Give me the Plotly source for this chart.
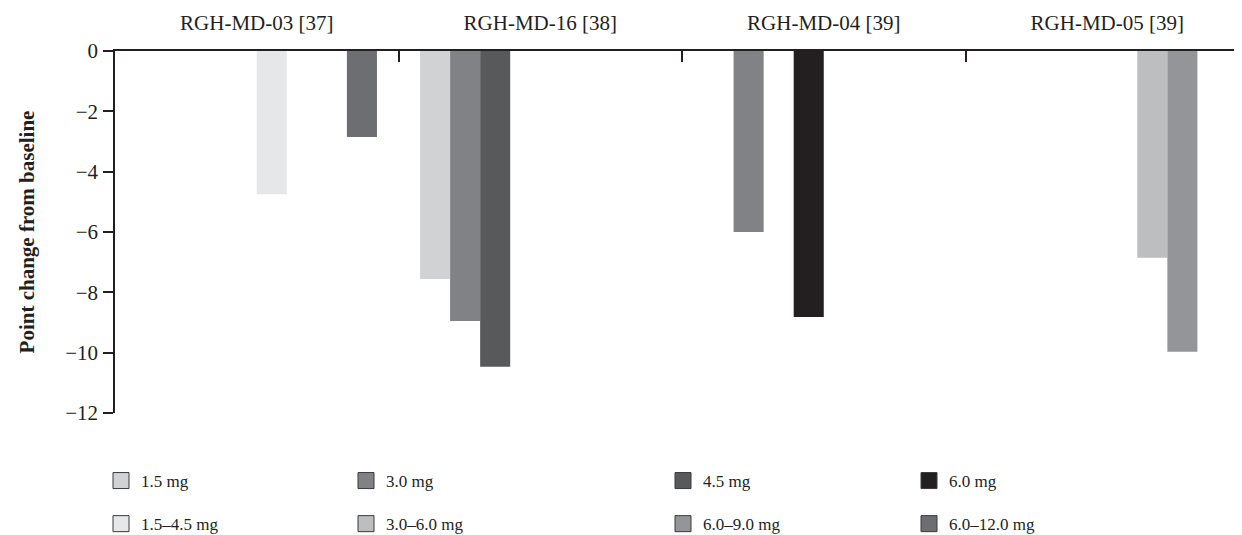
import plotly.graph_objects as go

studies = ["RGH-MD-03 [37]", "RGH-MD-16 [38]", "RGH-MD-04 [39]", "RGH-MD-05 [39]"]
series_names = ["1.5 mg", "3.0 mg", "4.5 mg", "6.0 mg",
                "1.5–4.5 mg", "3.0–6.0 mg", "6.0–9.0 mg", "6.0–12.0 mg"]
series_colors = ["#d1d2d4", "#808285", "#58595b", "#231f20",
                 "#e6e7e8", "#bcbec0", "#939598", "#6d6e71"]
# values per series, per study (None = not studied)
v_1_5 = [None, -7.56, None, None]
v_3_0 = [None, -8.95, -6.00, None]
v_4_5 = [None, -10.47, None, None]
v_6_0 = [None, None, -8.82, None]
v_1_5_4_5 = [-4.75, None, None, None]
v_3_0_6_0 = [None, None, None, -6.85]
v_6_0_9_0 = [None, None, None, -9.97]
v_6_0_12_0 = [-2.85, None, None, None]
series_values = [v_1_5, v_3_0, v_4_5, v_6_0, v_1_5_4_5, v_3_0_6_0, v_6_0_9_0, v_6_0_12_0]
y_ticks = [0, -2, -4, -6, -8, -10, -12]

FONT = "Liberation Serif"
INK = "#231f20"

fig = go.Figure()
for name, color, vals in zip(series_names, series_colors, series_values):
    fig.add_trace(go.Bar(x=studies, y=vals, name=name, marker=dict(color=color, line=dict(width=0)),
                         showlegend=False))

# legend entries (4 columns x 2 rows)
legend_ids = ["legend", "legend2", "legend3", "legend4"]
for i, (name, color) in enumerate(zip(series_names, series_colors)):
    col = i % 4
    fig.add_trace(go.Scatter(x=[None], y=[None], mode="markers", name=name,
                             marker=dict(symbol="square", size=16, color=color,
                                         line=dict(color="#3a3a3c", width=1)),
                             legend=legend_ids[col], legendgroup=name, showlegend=True))

# page is rendered with an 8px body margin, so the figure is sized/offset accordingly
PW = 1127.0
PH = 362.0
text_starts = [141, 386, 703, 949]
leg_x = [(t - 155) / PW for t in text_starts]
leg_common = dict(orientation="v", xanchor="left", yanchor="top", y=-50 / PH,
                  font=dict(family=FONT, size=17, color=INK), tracegroupgap=18,
                  bgcolor="rgba(0,0,0,0)", itemsizing="trace")
fig.update_layout(
    legend=dict(x=leg_x[0], **leg_common),
    legend2=dict(x=leg_x[1], **leg_common),
    legend3=dict(x=leg_x[2], **leg_common),
    legend4=dict(x=leg_x[3], **leg_common),
)

fig.update_layout(
    width=1234, height=527,
    margin=dict(l=107, r=0, t=43, b=122, pad=0, autoexpand=False),
    paper_bgcolor="white", plot_bgcolor="white",
    barmode="group", bargap=0.152, bargroupgap=0,
    font=dict(family=FONT, size=18, color=INK),
    xaxis=dict(side="top", type="category", range=[-0.5, -0.5 + PW / 283.5],
               automargin=False,
               showline=True, linecolor=INK, linewidth=1.5,
               ticks="inside", tickson="boundaries", ticklen=11, tickcolor=INK, tickwidth=1.5,
               showgrid=False, zeroline=False, tickfont=dict(family=FONT, size=21, color=INK),
               ticklabelstandoff=11),
    yaxis=dict(range=[-12, 0], tickvals=y_ticks, showline=True, linecolor=INK, linewidth=1.5,
               automargin=False,
               ticks="outside", ticklen=10, tickcolor=INK, tickwidth=1.5,
               showgrid=False, zeroline=False, tickfont=dict(family=FONT, size=21, color=INK),
               ticklabelstandoff=1,
               title=dict(text="<b>Point change from baseline</b>", standoff=25,
                          font=dict(family=FONT, size=21, color=INK))),
)

fig.write_html("out.html")
